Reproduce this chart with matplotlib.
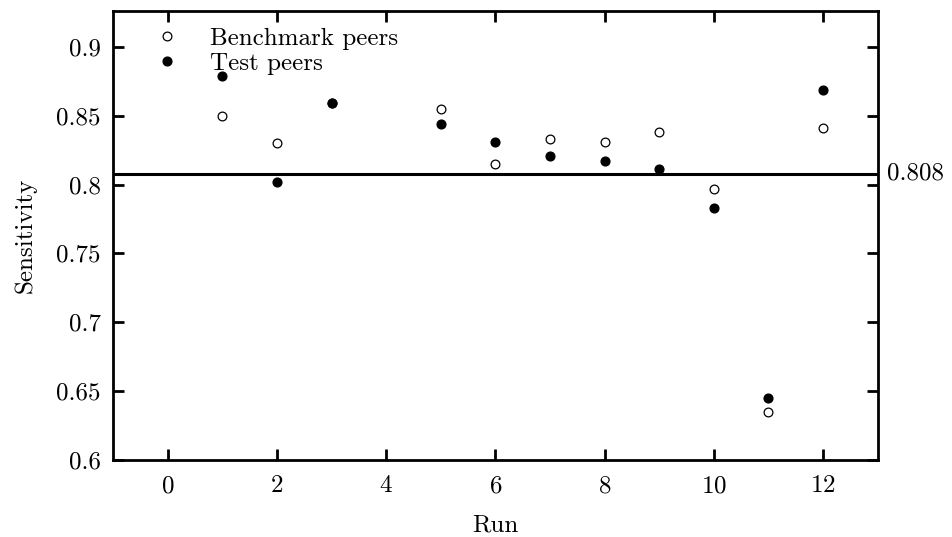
import matplotlib
matplotlib.use('Agg')
import matplotlib.pyplot as plt
import matplotlib.transforms as mtransforms

# data
runs = [1, 2, 3, 5, 6, 7, 8, 9, 10, 11, 12]
benchmark = [0.850, 0.830, 0.859, 0.855, 0.815, 0.833, 0.831, 0.838, 0.797, 0.635, 0.841]
test = [0.879, 0.802, 0.859, 0.844, 0.831, 0.821, 0.817, 0.811, 0.783, 0.645, 0.869]
threshold = 0.808
xticks = [0, 2, 4, 6, 8, 10, 12]
yticks = [0.6, 0.65, 0.7, 0.75, 0.8, 0.85, 0.9]
ytick_labels = ['0.6', '0.65', '0.7', '0.75', '0.8', '0.85', '0.9']

plt.rcParams['font.family'] = 'cmr10'
plt.rcParams['axes.formatter.use_mathtext'] = True
plt.rcParams['font.size'] = 18

fig = plt.figure(figsize=(9.53, 5.37), dpi=100)
ax = fig.add_axes([0.1186, 0.1434, 0.921 - 0.1186, 0.9795 - 0.1434])

ax.plot(runs, benchmark, 'o', mfc='white', mec='black', mew=0.9, ms=6.3,
        label='Benchmark peers', zorder=3)
ax.plot(runs, test, 'o', mfc='black', mec='black', ms=6.3,
        label='Test peers', zorder=4)

ax.axhline(threshold, color='black', lw=2.2, zorder=2)
trans = mtransforms.blended_transform_factory(ax.transAxes, ax.transData)
ax.text(1.012, threshold, '%.3f' % threshold, transform=trans,
        ha='left', va='center', fontsize=18)

ax.set_xlim(-1, 13)
ax.set_ylim(0.6, 0.926)
ax.set_xticks(xticks)
ax.set_yticks(yticks)
ax.set_yticklabels(ytick_labels)
ax.tick_params(direction='in', length=8, width=2, top=True, right=True,
               labelsize=18, pad=9)
ax.tick_params(axis='x', pad=11)
for s in ax.spines.values():
    s.set_linewidth(2)

ax.set_xlabel('Run', fontsize=18, labelpad=12)
ax.set_ylabel('Sensitivity', fontsize=18, labelpad=14)

ax.legend(loc='upper left', bbox_to_anchor=(0.0335, 1.0), frameon=False,
          handlelength=1.0, handletextpad=1.2, labelspacing=0.1,
          borderaxespad=0.25, fontsize=18)

fig.savefig('out.png', dpi=100)
